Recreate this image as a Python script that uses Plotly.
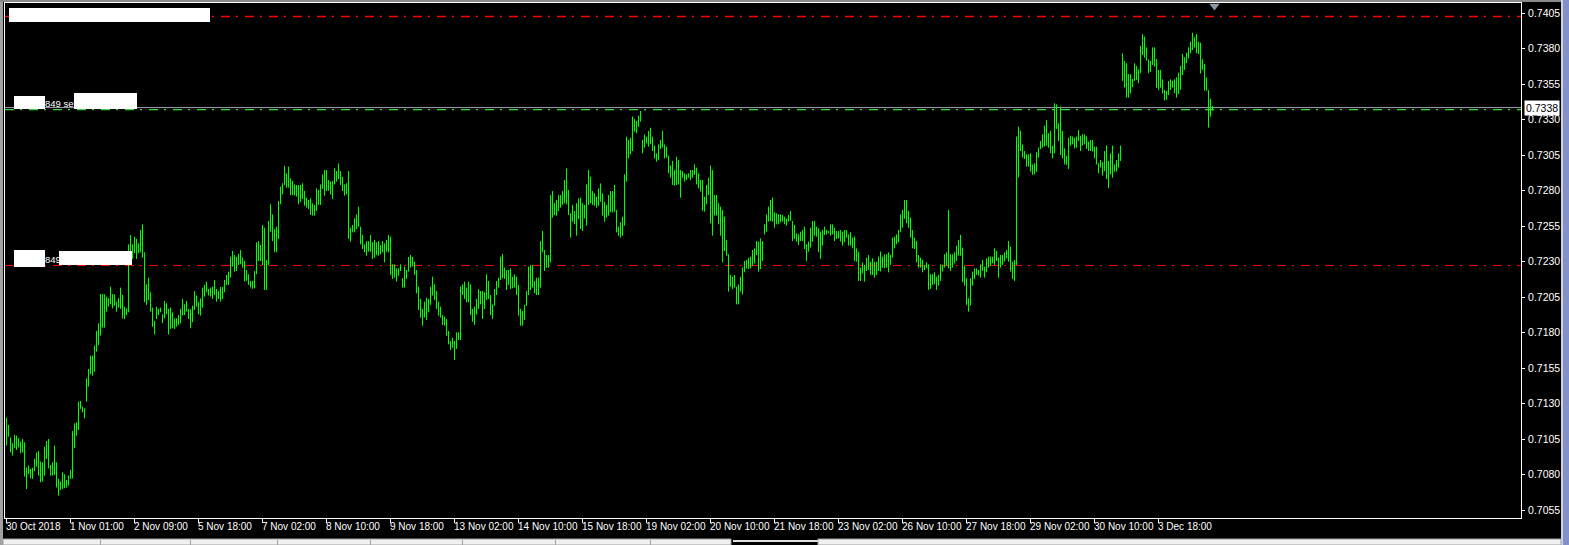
import plotly.graph_objects as go

# ---------------- data (AUDUSD H1, price x 10000) ----------------
bar_high = [
    7120.0, 7114.9, 7106.0, 7102.0, 7107.9, 7107.4, 7105.5, 7103.2, 7105.0, 7102.7,
    7084.8, 7086.3, 7083.9, 7084.8, 7091.0, 7095.6, 7096.6, 7089.1, 7088.6, 7099.6,
    7103.6, 7105.0, 7086.7, 7088.6, 7100.3, 7088.6, 7076.9, 7075.0, 7081.6, 7080.2,
    7076.2, 7079.2, 7083.2, 7110.7, 7116.1, 7116.8, 7131.3, 7131.8, 7127.8, 7126.6,
    7147.7, 7154.3, 7163.7, 7163.7, 7170.7, 7181.1, 7186.5, 7207.1, 7207.1, 7206.9,
    7205.2, 7204.1, 7212.3, 7207.1, 7206.9, 7201.7, 7204.1, 7211.6, 7206.4, 7198.2,
    7197.0, 7242.1, 7248.7, 7242.1, 7247.5, 7245.9, 7242.8, 7252.2, 7256.2, 7236.5,
    7213.9, 7218.6, 7208.3, 7197.5, 7188.1, 7198.2, 7196.6, 7197.5, 7192.8, 7202.2,
    7200.6, 7196.6, 7197.5, 7194.2, 7190.0, 7190.0, 7192.3, 7196.6, 7203.6, 7199.9,
    7202.2, 7196.6, 7196.3, 7198.9, 7209.2, 7206.0, 7201.3, 7204.1, 7211.6, 7213.5,
    7215.8, 7210.7, 7211.6, 7212.3, 7217.0, 7210.7, 7209.2, 7212.1, 7212.1, 7217.0,
    7220.5, 7222.9, 7233.4, 7237.4, 7234.6, 7233.2, 7235.3, 7238.1, 7232.7, 7230.4,
    7224.0, 7221.0, 7216.3, 7216.3, 7223.3, 7243.5, 7244.4, 7241.6, 7255.7, 7253.8,
    7231.1, 7258.5, 7270.3, 7263.2, 7252.9, 7254.5, 7272.6, 7282.7, 7285.1, 7297.3,
    7292.1, 7296.8, 7288.6, 7286.7, 7284.3, 7283.9, 7283.9, 7283.9, 7285.1, 7279.7,
    7275.0, 7273.3, 7274.5, 7271.0, 7269.8, 7281.5, 7280.4, 7284.3, 7291.4, 7294.4,
    7294.4, 7287.4, 7286.2, 7286.7, 7295.6, 7293.7, 7299.1, 7293.7, 7289.5, 7284.3,
    7285.1, 7293.7, 7253.8, 7255.7, 7260.4, 7263.2, 7268.6, 7254.5, 7248.7, 7242.1,
    7244.4, 7244.4, 7248.7, 7243.5, 7245.2, 7243.5, 7244.4, 7241.6, 7244.4, 7242.8,
    7245.2, 7248.7, 7247.5, 7228.0, 7228.0, 7225.2, 7225.2, 7228.0, 7218.2, 7226.4,
    7224.0, 7233.2, 7234.6, 7233.2, 7229.9, 7224.0, 7212.3, 7203.6, 7196.6, 7201.7,
    7204.5, 7203.6, 7212.3, 7219.3, 7213.9, 7209.2, 7201.7, 7198.2, 7192.3, 7191.2,
    7189.5, 7181.1, 7174.0, 7176.4, 7174.0, 7180.1, 7180.1, 7212.3, 7213.9, 7215.8,
    7211.6, 7215.8, 7213.9, 7196.6, 7198.2, 7203.6, 7210.6, 7209.2, 7209.2, 7208.3,
    7221.0, 7216.3, 7206.4, 7199.8, 7210.6, 7216.3, 7218.6, 7233.4, 7235.3, 7225.7,
    7224.0, 7224.0, 7225.2, 7219.3, 7221.0, 7219.3, 7213.5, 7196.6, 7195.2, 7199.4,
    7209.2, 7226.4, 7227.5, 7227.5, 7216.3, 7218.6, 7218.6, 7244.4, 7251.5, 7238.1,
    7234.6, 7234.6, 7276.8, 7279.6, 7271.0, 7273.3, 7276.8, 7276.8, 7279.6, 7287.4,
    7295.6, 7280.4, 7263.9, 7269.8, 7265.6, 7271.0, 7274.5, 7275.0, 7271.0, 7269.8,
    7284.3, 7294.4, 7289.7, 7279.6, 7278.0, 7275.7, 7281.5, 7285.0, 7278.0, 7272.1,
    7269.8, 7276.8, 7279.6, 7279.6, 7283.9, 7266.3, 7254.5, 7257.6, 7261.6, 7291.4,
    7317.9, 7315.6, 7317.2, 7332.0, 7330.3, 7328.9, 7332.7, 7336.0, 7315.6, 7319.5,
    7317.9, 7321.9, 7324.2, 7317.9, 7311.6, 7306.2, 7312.5, 7315.6, 7321.9, 7312.5,
    7310.9, 7304.5, 7297.5, 7300.8, 7294.4, 7303.8, 7301.5, 7294.4, 7293.7, 7292.1,
    7291.4, 7292.1, 7294.4, 7294.4, 7298.4, 7296.1, 7292.1, 7287.4, 7287.4, 7275.7,
    7283.9, 7289.0, 7297.5, 7294.4, 7276.8, 7276.8, 7271.0, 7268.6, 7266.3, 7261.6,
    7245.1, 7235.1, 7220.5, 7219.3, 7220.5, 7212.3, 7213.9, 7219.3, 7225.7, 7230.4,
    7231.1, 7232.7, 7233.4, 7238.1, 7239.3, 7244.4, 7244.0, 7246.3, 7244.4, 7256.2,
    7263.2, 7268.6, 7273.3, 7275.0, 7264.6, 7263.9, 7263.2, 7263.2, 7262.7, 7261.6,
    7260.4, 7262.7, 7265.6, 7258.5, 7255.7, 7249.8, 7249.1, 7251.0, 7252.2, 7254.5,
    7242.1, 7244.0, 7253.8, 7258.5, 7258.5, 7254.5, 7253.4, 7251.0, 7252.2, 7254.5,
    7252.2, 7251.5, 7256.2, 7256.2, 7253.8, 7251.5, 7251.5, 7252.2, 7251.0, 7252.2,
    7252.2, 7249.1, 7250.6, 7246.8, 7247.5, 7239.3, 7237.0, 7225.7, 7229.4, 7227.6,
    7232.7, 7234.6, 7229.9, 7232.2, 7229.9, 7229.9, 7233.4, 7237.0, 7233.4, 7235.1,
    7235.1, 7236.5, 7234.6, 7246.8, 7247.5, 7249.1, 7252.2, 7263.2, 7266.3, 7273.3,
    7273.3, 7265.6, 7260.9, 7252.2, 7246.8, 7244.4, 7234.6, 7232.7, 7231.1, 7227.6,
    7229.4, 7228.0, 7221.0, 7221.0, 7222.4, 7219.4, 7220.5, 7228.0, 7227.6, 7235.1,
    7236.5, 7266.3, 7235.1, 7235.1, 7236.5, 7241.2, 7245.2, 7248.7, 7239.8, 7227.1,
    7218.2, 7204.1, 7218.2, 7222.9, 7225.2, 7225.2, 7224.0, 7228.0, 7231.1, 7226.4,
    7232.2, 7233.4, 7233.4, 7233.4, 7239.3, 7237.4, 7232.7, 7234.6, 7234.6, 7236.5,
    7238.1, 7244.4, 7240.5, 7229.9, 7231.1, 7318.0, 7325.0, 7322.0, 7312.5, 7307.8,
    7305.5, 7305.5, 7306.2, 7298.4, 7299.2, 7306.9, 7310.2, 7314.9, 7319.6, 7325.7,
    7329.7, 7320.3, 7322.0, 7311.6, 7341.4, 7340.7, 7327.3, 7339.1, 7322.0, 7309.7,
    7304.5, 7317.2, 7318.6, 7318.0, 7317.2, 7318.0, 7322.6, 7318.6, 7319.6, 7319.6,
    7318.0, 7314.4, 7315.6, 7315.6, 7310.9, 7310.9, 7299.2, 7301.5, 7299.9, 7307.8,
    7311.6, 7300.8, 7306.2, 7311.6, 7298.4, 7301.5, 7306.2, 7311.6, 7376.6, 7371.2,
    7369.6, 7362.0, 7362.0, 7358.5, 7369.6, 7367.7, 7365.3, 7381.8, 7390.2, 7388.3,
    7380.8, 7372.4, 7371.2, 7380.8, 7380.8, 7372.6, 7364.9, 7364.9, 7358.3, 7350.8,
    7350.1, 7357.1, 7358.3, 7357.4, 7358.3, 7359.7, 7363.0, 7367.7, 7376.1, 7373.8,
    7377.1, 7380.8, 7384.8, 7391.1, 7387.9, 7390.2, 7384.8, 7384.1, 7372.4, 7369.1,
    7359.7, 7350.8, 7344.5, 7339.5,
]
bar_low = [
    7100.3, 7106.7, 7095.6, 7093.3, 7098.5, 7097.3, 7099.0, 7094.9, 7095.6, 7078.5,
    7069.8, 7080.2, 7077.3, 7076.9, 7082.5, 7085.6, 7079.2, 7074.5, 7075.0, 7079.2,
    7091.0, 7084.4, 7079.2, 7079.2, 7079.7, 7070.8, 7065.1, 7069.1, 7069.8, 7070.3,
    7070.8, 7072.2, 7076.9, 7077.3, 7098.5, 7107.4, 7111.4, 7126.2, 7123.8, 7119.6,
    7131.3, 7141.9, 7150.6, 7149.6, 7152.4, 7166.5, 7171.2, 7177.8, 7183.4, 7183.4,
    7194.7, 7198.2, 7199.9, 7197.0, 7198.9, 7194.7, 7197.5, 7196.6, 7190.0, 7189.5,
    7192.3, 7194.2, 7232.2, 7231.8, 7235.8, 7231.8, 7235.8, 7236.5, 7232.7, 7201.3,
    7199.4, 7202.9, 7194.7, 7184.1, 7178.7, 7189.5, 7192.3, 7194.2, 7186.5, 7190.0,
    7192.8, 7178.7, 7182.5, 7183.0, 7182.5, 7184.1, 7185.3, 7186.5, 7191.9, 7192.3,
    7194.7, 7189.5, 7183.0, 7187.2, 7195.9, 7198.2, 7192.8, 7191.9, 7197.5, 7205.2,
    7208.3, 7206.0, 7205.3, 7203.6, 7206.4, 7201.7, 7203.6, 7201.7, 7203.6, 7208.3,
    7213.5, 7213.5, 7218.6, 7226.4, 7222.9, 7223.3, 7227.5, 7228.0, 7225.7, 7215.8,
    7216.3, 7213.5, 7211.6, 7210.7, 7211.1, 7221.0, 7230.4, 7230.4, 7227.5, 7209.9,
    7209.9, 7227.5, 7251.0, 7244.4, 7236.5, 7236.5, 7245.9, 7270.3, 7277.3, 7283.9,
    7282.0, 7282.0, 7276.8, 7276.8, 7276.4, 7275.7, 7270.3, 7272.1, 7274.0, 7269.3,
    7267.9, 7267.0, 7262.8, 7262.3, 7262.3, 7265.6, 7269.8, 7269.8, 7281.1, 7276.4,
    7279.7, 7279.7, 7277.3, 7274.0, 7284.3, 7286.2, 7288.1, 7283.9, 7279.7, 7276.4,
    7277.3, 7245.9, 7244.0, 7250.5, 7250.5, 7252.9, 7254.5, 7242.1, 7238.8, 7236.5,
    7234.1, 7236.9, 7236.9, 7231.8, 7232.7, 7234.6, 7234.1, 7235.1, 7236.5, 7229.4,
    7236.9, 7236.5, 7220.5, 7217.7, 7218.6, 7215.8, 7220.0, 7223.3, 7211.6, 7211.6,
    7217.7, 7222.8, 7225.7, 7226.4, 7220.5, 7207.6, 7195.9, 7190.5, 7184.8, 7190.5,
    7188.8, 7194.2, 7199.4, 7206.0, 7202.9, 7196.6, 7191.9, 7190.5, 7185.3, 7184.8,
    7177.8, 7171.7, 7167.7, 7169.3, 7160.7, 7168.4, 7174.7, 7174.7, 7206.4, 7203.6,
    7201.3, 7201.3, 7192.3, 7187.6, 7185.3, 7192.8, 7196.6, 7199.8, 7189.5, 7196.6,
    7202.9, 7203.6, 7192.3, 7189.5, 7198.9, 7206.4, 7211.6, 7217.0, 7218.2, 7217.7,
    7209.9, 7213.5, 7210.6, 7211.1, 7211.6, 7206.4, 7191.9, 7184.8, 7184.8, 7188.8,
    7198.9, 7206.4, 7209.9, 7211.6, 7207.6, 7206.4, 7206.4, 7211.6, 7236.5, 7223.3,
    7225.7, 7225.7, 7229.4, 7260.9, 7262.7, 7262.3, 7265.6, 7267.9, 7269.8, 7271.0,
    7270.3, 7262.7, 7246.8, 7258.1, 7256.2, 7248.2, 7259.9, 7252.9, 7251.5, 7260.4,
    7255.2, 7269.8, 7271.0, 7269.8, 7269.3, 7267.9, 7269.3, 7272.1, 7262.3, 7258.1,
    7260.9, 7262.3, 7264.6, 7264.6, 7265.1, 7250.5, 7248.2, 7246.8, 7248.2, 7255.2,
    7286.2, 7302.6, 7305.5, 7307.8, 7321.4, 7320.3, 7324.9, 7328.5, 7306.2, 7310.2,
    7313.2, 7310.9, 7312.5, 7307.8, 7302.6, 7300.3, 7301.5, 7309.2, 7310.2, 7302.6,
    7303.1, 7292.1, 7289.0, 7283.9, 7283.4, 7283.9, 7284.3, 7275.0, 7289.0, 7286.2,
    7287.4, 7289.0, 7287.4, 7289.0, 7290.9, 7284.3, 7281.5, 7279.2, 7265.6, 7265.1,
    7270.3, 7276.8, 7256.9, 7248.2, 7262.3, 7262.3, 7256.2, 7248.2, 7229.4, 7237.4,
    7234.1, 7208.8, 7212.3, 7210.6, 7211.6, 7199.8, 7199.8, 7208.8, 7206.9, 7222.4,
    7225.2, 7224.7, 7225.2, 7227.1, 7228.7, 7234.6, 7222.8, 7224.7, 7230.4, 7249.1,
    7251.0, 7258.1, 7258.5, 7258.1, 7253.8, 7256.2, 7256.2, 7257.6, 7258.1, 7256.2,
    7255.2, 7258.1, 7258.5, 7244.4, 7245.9, 7244.0, 7241.6, 7244.4, 7244.4, 7238.8,
    7230.4, 7236.9, 7239.8, 7244.0, 7248.2, 7247.5, 7236.5, 7231.8, 7241.2, 7248.7,
    7249.1, 7249.9, 7248.2, 7249.1, 7244.4, 7245.9, 7246.3, 7244.0, 7241.2, 7243.5,
    7246.8, 7241.2, 7241.2, 7239.3, 7230.4, 7229.9, 7216.3, 7216.3, 7221.7, 7215.8,
    7223.3, 7224.0, 7220.5, 7220.5, 7218.6, 7220.5, 7223.3, 7222.9, 7225.7, 7225.2,
    7225.7, 7222.4, 7227.6, 7232.7, 7239.3, 7242.1, 7243.5, 7250.6, 7253.8, 7260.0,
    7256.9, 7253.8, 7246.8, 7239.3, 7238.8, 7229.4, 7225.7, 7225.7, 7222.4, 7224.0,
    7225.2, 7210.0, 7210.7, 7213.5, 7214.0, 7210.0, 7213.0, 7216.3, 7222.9, 7225.7,
    7227.1, 7225.2, 7223.3, 7225.7, 7228.7, 7230.4, 7234.1, 7234.1, 7215.4, 7213.0,
    7199.4, 7194.7, 7199.0, 7213.0, 7217.7, 7220.5, 7220.1, 7218.6, 7223.3, 7218.6,
    7222.4, 7225.7, 7227.1, 7228.7, 7227.6, 7230.4, 7218.6, 7225.7, 7227.6, 7229.9,
    7232.2, 7229.9, 7222.9, 7217.7, 7216.3, 7227.6, 7289.1, 7307.8, 7303.1, 7302.2,
    7296.8, 7296.8, 7293.3, 7291.0, 7291.4, 7293.3, 7303.1, 7309.2, 7310.2, 7310.9,
    7311.6, 7310.2, 7306.2, 7302.7, 7306.2, 7323.3, 7314.9, 7305.0, 7302.7, 7298.4,
    7298.0, 7295.2, 7311.6, 7312.5, 7309.7, 7310.2, 7314.9, 7307.8, 7311.6, 7312.5,
    7309.2, 7307.8, 7307.8, 7307.4, 7302.7, 7298.4, 7292.1, 7296.1, 7290.5, 7293.8,
    7288.1, 7281.6, 7291.4, 7289.1, 7293.3, 7293.3, 7296.1, 7300.8, 7357.1, 7352.4,
    7345.4, 7345.4, 7348.4, 7352.7, 7357.1, 7357.8, 7355.5, 7362.5, 7375.4, 7373.5,
    7371.4, 7362.5, 7363.7, 7368.4, 7367.2, 7352.4, 7350.8, 7352.4, 7348.4, 7343.3,
    7343.8, 7347.3, 7350.8, 7352.4, 7348.4, 7345.4, 7348.0, 7350.8, 7361.3, 7364.9,
    7369.6, 7373.1, 7376.6, 7378.9, 7380.6, 7376.6, 7376.1, 7362.5, 7364.9, 7350.3,
    7350.3, 7324.3, 7332.0, 7336.2,
]

time_labels = [
    "30 Oct 2018", "1 Nov 01:00", "2 Nov 09:00", "5 Nov 18:00", "7 Nov 02:00",
    "8 Nov 10:00", "9 Nov 18:00", "13 Nov 02:00", "14 Nov 10:00", "15 Nov 18:00",
    "19 Nov 02:00", "20 Nov 10:00", "21 Nov 18:00", "23 Nov 02:00", "26 Nov 10:00",
    "27 Nov 18:00", "29 Nov 02:00", "30 Nov 10:00", "3 Dec 18:00",
]
bars_per_label = 32
price_ticks = [0.7055, 0.7080, 0.7105, 0.7130, 0.7155, 0.7180, 0.7205, 0.7230,
               0.7255, 0.7280, 0.7305, 0.7330, 0.7355, 0.7380, 0.7405]
tp_price = 0.74025      # upper red level
sl_price = 0.72272      # lower red level
order_price = 0.73370   # green dashed order line
bid_price = 0.73384     # grey bid line
bid_label = "0.7338"
y_range = [0.704937, 0.741204]

# ---------------- layout geometry ----------------
W, H = 1569, 545
ML, MR, MT, MB = 5, 48, 3, 27
PW, PH = W - ML - MR, H - MT - MB


def fx(p):
    return (p - ML) / PW


def fy(p):
    return 1 - (p - MT) / PH


FONT = "Liberation Sans, Arial, sans-serif"
BAR_COLOR = "#00FF00"

n = min(len(bar_high), len(bar_low))
xs, ys = [], []
for i in range(n):
    xs += [i, i, None]
    ys += [bar_low[i] / 10000, bar_high[i] / 10000, None]

fig = go.Figure()
fig.add_trace(go.Scatter(x=xs, y=ys, mode="lines",
                         line=dict(color=BAR_COLOR, width=1),
                         hoverinfo="skip", showlegend=False))
# chart-shift marker at the top
fig.add_trace(go.Scatter(x=[n], y=[y_range[1] - 0.00021], mode="markers",
                         marker=dict(symbol="triangle-down", size=9, color="#8C98A4",
                                     line=dict(width=0)),
                         cliponaxis=False, hoverinfo="skip", showlegend=False))

DASH = "9px,6px,2px,7px"
shapes = []
for lvl, col, w, dash in [(tp_price, "#FF0000", 1.5, DASH),
                          (sl_price, "#FF0000", 1.2, DASH),
                          (bid_price, "#9AA3AD", 1, "solid"),
                          (order_price, "#3CDC3C", 1.2, DASH)]:
    shapes.append(dict(type="line", xref="paper", x0=0, x1=1, yref="y", y0=lvl, y1=lvl,
                       line=dict(color=col, width=w, dash=dash), layer="below"))


def rect(x0, y0, x1, y1, fill, line=None):
    shapes.append(dict(type="rect", xref="paper", yref="paper",
                       x0=fx(x0), x1=fx(x1), y0=fy(y1), y1=fy(y0),
                       fillcolor=fill, line=dict(width=1 if line else 0, color=line or fill),
                       layer="above"))


# white redaction boxes
rect(9, 8, 210, 22, "#FFFFFF")
rect(14, 96, 45, 109, "#FFFFFF")
rect(74, 93, 137, 109, "#FFFFFF")
rect(14, 250, 45, 267, "#FFFFFF")
rect(59, 251, 132, 265, "#FFFFFF")
# window chrome
rect(0, 0, 3, 545, "#A0A0A0")
rect(0, 0, 1569, 2, "#8A8A8A")
rect(1561, 0, 1563, 545, "#D4D4D4")
rect(1563, 0, 1569, 545, "#8391CA")
rect(3, 539, 731, 545, "#F0F0F0", "#A0A0A0")
rect(818, 539, 1561, 545, "#F0F0F0", "#A0A0A0")
rect(733, 540, 818, 542, "#E0E0E0")
for d in [100, 190, 277, 370, 462, 555, 650]:
    rect(d, 540, d + 1, 545, "#A0A0A0")

annotations = []
for k, lab in enumerate(time_labels):
    annotations.append(dict(x=k * bars_per_label, xref="x", y=0, yref="paper",
                            text=lab, showarrow=False, xanchor="left", yanchor="top",
                            xshift=-3, yshift=-1,
                            font=dict(family=FONT, size=10, color="#FFFFFF")))
annotations.append(dict(x=1, xref="paper", y=bid_price, yref="y", text=bid_label,
                        showarrow=False, xanchor="left", yanchor="middle", xshift=3,
                        bgcolor="#FFFFFF", borderpad=1,
                        font=dict(family=FONT, size=10.5, color="#000000")))
annotations.append(dict(x=fx(45), xref="paper", y=fy(103), yref="paper", text="849 sel",
                        showarrow=False, xanchor="left", yanchor="middle", xshift=-2,
                        font=dict(family=FONT, size=9.5, color="#FFFFFF")))
annotations.append(dict(x=fx(45), xref="paper", y=fy(259), yref="paper", text="849",
                        showarrow=False, xanchor="left", yanchor="middle", xshift=-2,
                        font=dict(family=FONT, size=9.5, color="#FFFFFF")))

fig.update_layout(
    width=W, height=H, autosize=False,
    margin=dict(l=ML, r=MR, t=MT, b=MB, pad=0),
    paper_bgcolor="#000000", plot_bgcolor="#000000",
    showlegend=False,
    shapes=shapes, annotations=annotations,
    xaxis=dict(range=[-0.75, PW / 2 - 0.75], showgrid=False, zeroline=False,
               tickvals=[k * bars_per_label for k in range(len(time_labels))],
               showticklabels=False, ticks="outside", ticklen=4, tickcolor="#FFFFFF",
               showline=True, linecolor="#FFFFFF", linewidth=1, mirror=True,
               fixedrange=True),
    yaxis=dict(range=y_range, side="right", showgrid=False, zeroline=False,
               tickvals=price_ticks, tickformat=".4f",
               ticks="outside", ticklen=3, tickcolor="#FFFFFF", ticklabelstandoff=1,
               tickfont=dict(family=FONT, size=10.5, color="#FFFFFF"),
               showline=True, linecolor="#FFFFFF", linewidth=1, mirror=True,
               fixedrange=True),
)

fig.write_html("out.html", config={"displayModeBar": False})
with open("out.html", "r", encoding="utf-8") as f:
    html = f.read()
html = html.replace("<head>", "<head><style>html,body{margin:0;padding:0;background:#000;overflow:hidden}</style>", 1)
with open("out.html", "w", encoding="utf-8") as f:
    f.write(html)
